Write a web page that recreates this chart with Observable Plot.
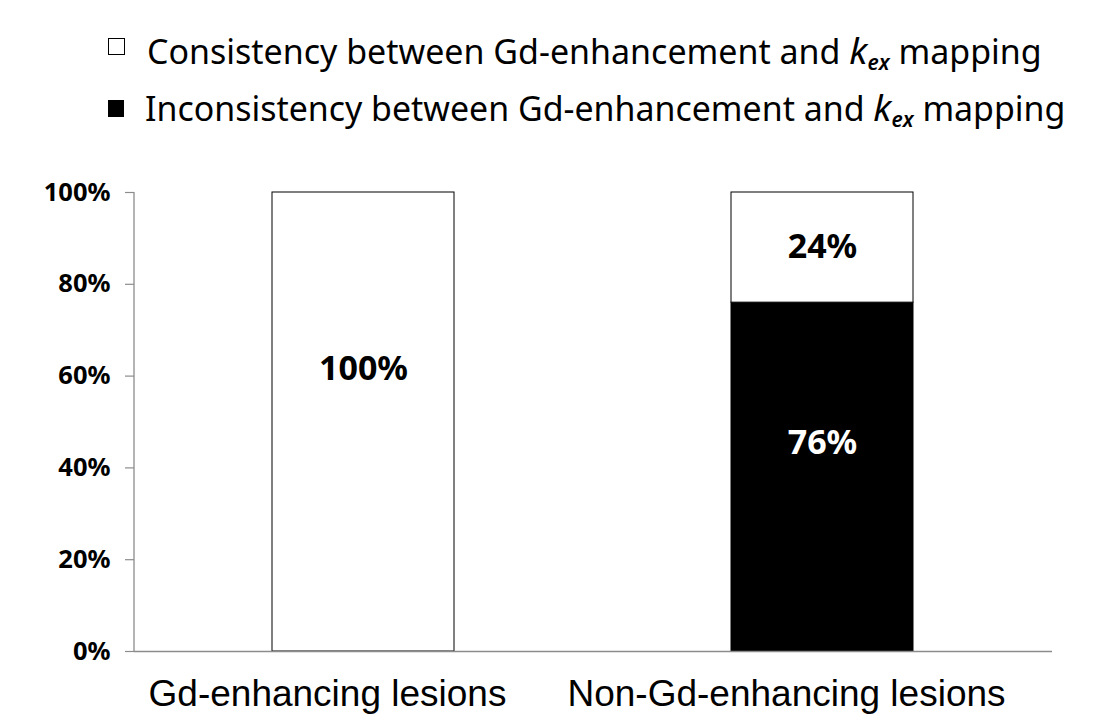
<!DOCTYPE html>
<html>
<head>
<meta charset="utf-8">
<script src="https://cdn.jsdelivr.net/npm/d3@7"></script>
<script src="https://cdn.jsdelivr.net/npm/@observablehq/plot@0.6"></script>
<style>
  html, body { margin: 0; padding: 0; background: #fff; overflow: hidden; }
  #wrap { position: relative; width: 1104px; height: 725px; }
  #legend { position: relative; width: 1104px; height: 170px; font-family: "Noto Sans", sans-serif; color: #000; }
  .lg-swatch { position: absolute; box-sizing: border-box; }
  .lg-text { position: absolute; white-space: nowrap; line-height: 1; }
  .lg-text sub { font-style: italic; font-weight: 600; font-size: 0.62em; vertical-align: baseline; position: relative; top: 0.28em; }
  .lg-text i { font-size: 1.08em; }
  #chart svg { display: block; }
  #chart g[aria-label="y-axis tick label"], #chart g[aria-label="y-axis tick label"] text { font-size: 25.5px !important; font-weight: bold !important; fill: #000; }
  #chart g[aria-label="x-axis tick label"], #chart g[aria-label="x-axis tick label"] text { font-size: 37px !important; font-family: "Liberation Sans", Arial, sans-serif !important; fill: #000; }
</style>
</head>
<body>
<div id="wrap">
  <div id="legend"></div>
  <div id="chart"></div>
</div>
<script>
// ---- data ----
const categories = ["Gd-enhancing lesions", "Non-Gd-enhancing lesions"];
const seriesNames = ["Consistency", "Inconsistency"];
const legendPrefix = ["Consistency between Gd-enhancement and ", "Inconsistency between Gd-enhancement and "];
const consistency = [1.00, 0.24];
const inconsistency = [0.00, 0.76];
const consistencyLabelAt = [0.615, 0.88];
const inconsistencyLabelAt = [null, 0.455];
const yTicks = [0, 0.2, 0.4, 0.6, 0.8, 1.0];

// ---- legend (HTML above the plot) ----
const legend = document.getElementById("legend");
const legendSpecs = [
  {swatch: {left: 108, top: 38, w: 17, h: 17, fill: "#fff", border: "1px solid #000"}, left: 147, baseline: 62, target: 895},
  {swatch: {left: 108, top: 100, w: 16, h: 17, fill: "#000", border: "none"}, left: 145, baseline: 119, target: 921}
];
legendSpecs.forEach((s, i) => {
  const sw = document.createElement("div");
  sw.className = "lg-swatch";
  Object.assign(sw.style, {left: s.swatch.left + "px", top: s.swatch.top + "px", width: s.swatch.w + "px", height: s.swatch.h + "px", background: s.swatch.fill, border: s.swatch.border});
  legend.appendChild(sw);
  const t = document.createElement("div");
  t.className = "lg-text";
  t.innerHTML = legendPrefix[i] + "<i>k</i><sub>ex</sub> mapping";
  let F = 30;
  t.style.fontSize = F + "px";
  t.style.left = s.left + "px";
  legend.appendChild(t);
  const w = t.getBoundingClientRect().width;
  F = F * s.target / w;
  t.style.fontSize = F + "px";
  t.style.top = (s.baseline - 0.888 * F) + "px";
});

// ---- table for the library ----
const rows = [];
categories.forEach((c, i) => {
  rows.push({cat: c, series: "Inconsistency", value: inconsistency[i]});
  rows.push({cat: c, series: "Consistency", value: consistency[i]});
});
const barRows = rows.filter(d => d.value > 0);
const fmt = d3.format(".0%");
const darkLabels = [], lightLabels = [];
categories.forEach((c, i) => {
  if (consistency[i] > 0) darkLabels.push({cat: c, pos: consistencyLabelAt[i], label: fmt(consistency[i])});
  if (inconsistency[i] > 0) lightLabels.push({cat: c, pos: inconsistencyLabelAt[i], label: fmt(inconsistency[i])});
});

// left axis line drawn from the plot's own dimensions and y scale
const yAxisLine = (index, scales, values, dimensions) => {
  const x = dimensions.marginLeft;
  return d3.create("svg:line")
    .attr("x1", x).attr("x2", x)
    .attr("y1", scales.y(1)).attr("y2", scales.y(0))
    .attr("stroke", "#8c8c8c").attr("stroke-width", 1.3)
    .node();
};

const chart = Plot.plot({
  width: 1104,
  height: 555,
  marginTop: 22,
  marginBottom: 74,
  marginLeft: 134,
  marginRight: 52,
  style: {fontFamily: "Noto Sans", background: "#fff", color: "#000"},
  x: {domain: categories, paddingInner: 0.603, paddingOuter: 0.3015, label: null},
  y: {domain: [0, 1], label: null},
  color: {domain: seriesNames, range: ["#ffffff", "#000000"]},
  marks: [
    Plot.barY(barRows, {x: "cat", y: "value", z: "series", fill: "series", stroke: "#000", strokeWidth: 1, order: ["Inconsistency", "Consistency"]}),
    Plot.ruleY([0], {stroke: "#8c8c8c", strokeWidth: 1.3}),
    yAxisLine,
    Plot.axisY({ticks: yTicks, tickFormat: fmt, tickSize: 9, tickPadding: 15, stroke: "#8c8c8c", strokeWidth: 1.2, fill: "#000", fontSize: 25.5, fontWeight: "bold", label: null}),
    Plot.axisX({tickSize: 0, tickPadding: 28, dx: -36, fontSize: 37, fontFamily: "Liberation Sans", fill: "#000", label: null}),
    Plot.text(darkLabels, {x: "cat", y: "pos", text: "label", fill: "#000", fontSize: 34, fontWeight: "bold"}),
    Plot.text(lightLabels, {x: "cat", y: "pos", text: "label", fill: "#fff", fontSize: 34, fontWeight: "bold"})
  ]
});
document.getElementById("chart").appendChild(chart);
</script>
</body>
</html>
